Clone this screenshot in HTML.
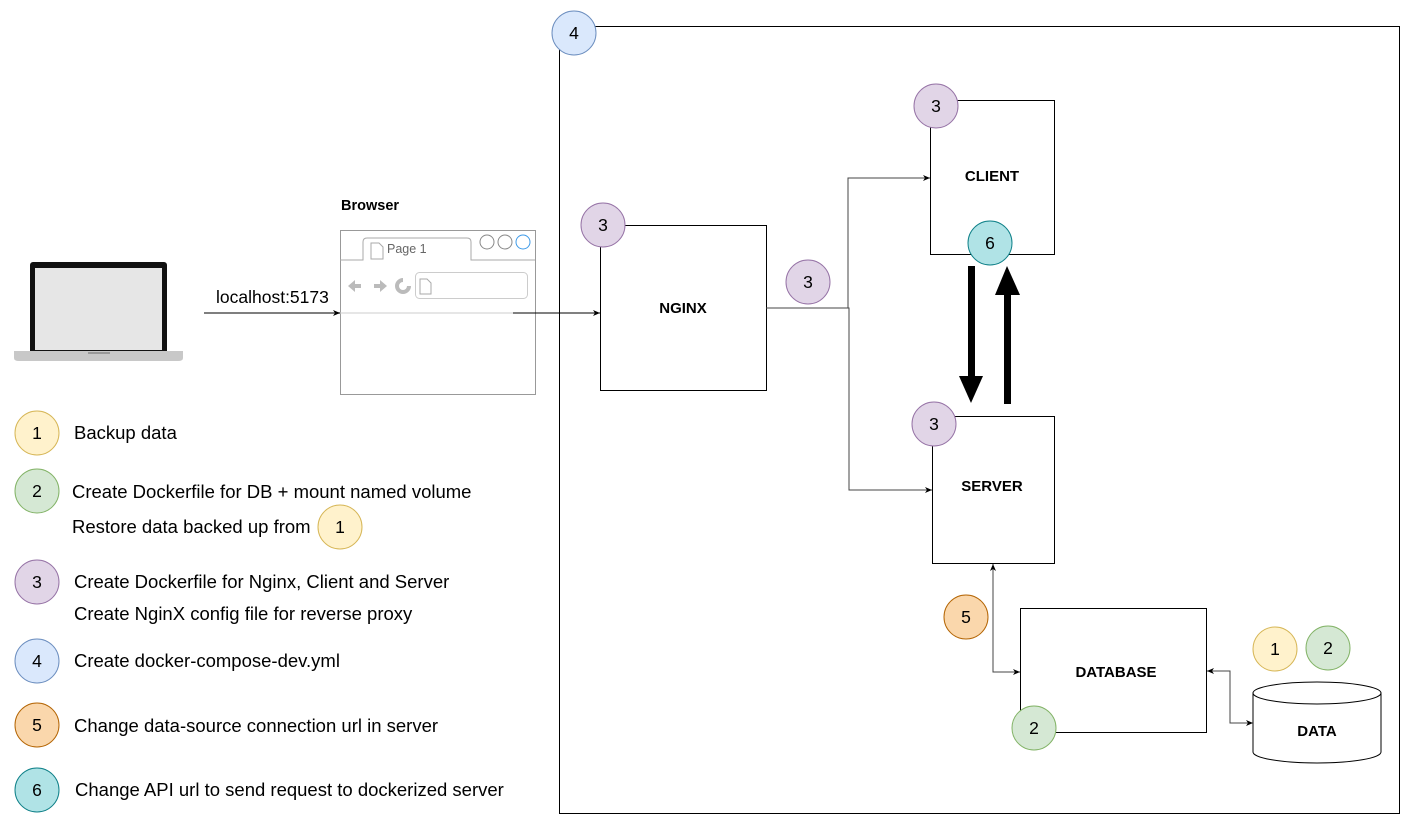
<!DOCTYPE html>
<html><head><meta charset="utf-8"><style>
html,body{margin:0;padding:0;background:#fff;}
svg{display:block;font-family:"Liberation Sans",Arial,sans-serif;}
</style></head><body>
<svg width="1415" height="828" viewBox="0 0 1415 828" xmlns="http://www.w3.org/2000/svg">
<defs>
<marker id="a" markerWidth="8" markerHeight="8" refX="7" refY="4" orient="auto" markerUnits="userSpaceOnUse"><path d="M0,1 L7,4 L0,7 L2,4 Z" fill="#000"/></marker>
<marker id="as" markerWidth="8" markerHeight="8" refX="1" refY="4" orient="auto" markerUnits="userSpaceOnUse"><path d="M8,1 L1,4 L8,7 L6,4 Z" fill="#000"/></marker>
</defs>
<rect x="559.5" y="26.5" width="840" height="787" fill="none" stroke="#000"/>
<!-- laptop -->
<rect x="30" y="262" width="137" height="94" rx="3" fill="#111"/>
<rect x="35" y="268" width="127" height="82" fill="#e6e6e6"/>
<path d="M14,351 H183 V358 Q183,361 178,361 H19 Q14,361 14,358 Z" fill="#c8c8c8"/>
<rect x="88" y="352" width="22" height="2" fill="#999"/>
<!-- localhost -->
<line x1="204" y1="313" x2="340" y2="313" stroke="#555" stroke-width="1.5" marker-end="url(#a)"/>
<text x="216" y="303" font-size="17.5">localhost:5173</text>
<!-- browser -->
<text x="341" y="210" font-size="14.5" font-weight="bold">Browser</text>
<rect x="340.5" y="230.5" width="195" height="164" fill="#fff" stroke="#999"/>
<path d="M340,260 H363 V242 Q363,238 367,238 H467 Q471,238 471,242 V260 H535" fill="none" stroke="#aaa"/>
<path d="M371,243 h8 l4,4 v12 h-12 z" fill="none" stroke="#aaa"/>
<text x="387" y="253" font-size="12.5" fill="#666">Page 1</text>
<circle cx="487" cy="242" r="7" fill="none" stroke="#888"/>
<circle cx="505" cy="242" r="7" fill="none" stroke="#888"/>
<circle cx="523" cy="242" r="7" fill="none" stroke="#3d9ae8"/>
<path d="M348,286 l7,-6 v4 h6 v4 h-6 v4 z M387,286 l-7,-6 v4 h-6 v4 h6 v4 z" fill="#bbb"/>
<path d="M403,280 a6,6 0 1 0 6,6" fill="none" stroke="#bbb" stroke-width="4"/>
<rect x="415.5" y="272.5" width="112" height="26" rx="4" fill="none" stroke="#ccc"/>
<path d="M420,279 h7 l4,4 v11 h-11 z" fill="none" stroke="#aaa"/>
<line x1="340" y1="313" x2="535" y2="313" stroke="#ccc"/>
<line x1="513" y1="313" x2="600" y2="313" stroke="#000" marker-end="url(#a)"/>
<!-- boxes -->
<rect x="600.5" y="225.5" width="166" height="165" fill="#fff" stroke="#000"/>
<text x="683" y="313" font-size="15" font-weight="bold" text-anchor="middle">NGINX</text>
<rect x="930.5" y="100.5" width="124" height="154" fill="#fff" stroke="#000"/>
<text x="992" y="181" font-size="15" font-weight="bold" text-anchor="middle">CLIENT</text>
<rect x="932.5" y="416.5" width="122" height="147" fill="#fff" stroke="#000"/>
<text x="992" y="491" font-size="15" font-weight="bold" text-anchor="middle">SERVER</text>
<rect x="1020.5" y="608.5" width="186" height="124" fill="#fff" stroke="#000"/>
<text x="1116" y="677" font-size="15" font-weight="bold" text-anchor="middle">DATABASE</text>
<!-- cylinder -->
<path d="M1253,693 V752 A64,11 0 0 0 1381,752 V693" fill="#fff" stroke="#000"/>
<ellipse cx="1317" cy="693" rx="64" ry="11" fill="#fff" stroke="#000"/>
<text x="1317" y="736" font-size="15" font-weight="bold" text-anchor="middle">DATA</text>
<!-- connectors -->
<polyline points="766,308 848,308 848,178 930,178" fill="none" stroke="#444" marker-end="url(#a)"/>
<polyline points="848,308 849,308 849,490 932,490" fill="none" stroke="#444" marker-end="url(#a)"/>
<polyline points="993,564 993,672 1020,672" fill="none" stroke="#444" marker-start="url(#as)" marker-end="url(#a)"/>
<polyline points="1207,671 1230,671 1230,723 1253,723" fill="none" stroke="#444" marker-start="url(#as)" marker-end="url(#a)"/>
<!-- thick arrows -->
<rect x="968" y="266" width="7" height="112" fill="#000"/>
<path d="M959,376 H983 L971,403 Z" fill="#000"/>
<rect x="1004" y="293" width="7" height="111" fill="#000"/>
<path d="M995,295 H1020 L1007,266 Z" fill="#000"/>
<!-- badges -->
<g font-size="17.5" text-anchor="middle">
<g fill="#e1d5e7" stroke="#9673a6">
<circle cx="603" cy="225" r="22"/><circle cx="936" cy="106" r="22"/><circle cx="808" cy="282" r="22"/><circle cx="934" cy="424" r="22"/><circle cx="37" cy="582" r="22"/>
</g>
<circle cx="574" cy="33" r="22" fill="#dae8fc" stroke="#6c8ebf"/>
<circle cx="37" cy="661" r="22" fill="#dae8fc" stroke="#6c8ebf"/>
<circle cx="990" cy="243" r="22" fill="#b0e3e6" stroke="#0e8088"/>
<circle cx="37" cy="790" r="22" fill="#b0e3e6" stroke="#0e8088"/>
<circle cx="966" cy="617" r="22" fill="#fad7ac" stroke="#b46504"/>
<circle cx="37" cy="725" r="22" fill="#fad7ac" stroke="#b46504"/>
<g fill="#d5e8d4" stroke="#82b366"><circle cx="1034" cy="728" r="22"/><circle cx="1328" cy="648" r="22"/><circle cx="37" cy="491" r="22"/></g>
<g fill="#fff2cc" stroke="#d6b656"><circle cx="1275" cy="649" r="22"/><circle cx="37" cy="433" r="22"/><circle cx="340" cy="527" r="22"/></g>
<text x="603" y="231">3</text><text x="936" y="112">3</text><text x="808" y="288">3</text><text x="934" y="430">3</text><text x="37" y="588">3</text>
<text x="574" y="39">4</text><text x="37" y="667">4</text>
<text x="990" y="249">6</text><text x="37" y="796">6</text>
<text x="966" y="623">5</text><text x="37" y="731">5</text>
<text x="1034" y="734">2</text><text x="1328" y="654">2</text><text x="37" y="497">2</text>
<text x="1275" y="655">1</text><text x="37" y="439">1</text><text x="340" y="533">1</text>
</g>
<g font-size="18.5">
<text x="74" y="439">Backup data</text>
<text x="72" y="498">Create Dockerfile for DB + mount named volume</text>
<text x="72" y="533">Restore data backed up from</text>
<text x="74" y="588">Create Dockerfile for Nginx, Client and Server</text>
<text x="74" y="620">Create NginX config file for reverse proxy</text>
<text x="74" y="667">Create docker-compose-dev.yml</text>
<text x="74" y="732">Change data-source connection url in server</text>
<text x="75" y="796">Change API url to send request to dockerized server</text>
</g>
</svg>
</body></html>
